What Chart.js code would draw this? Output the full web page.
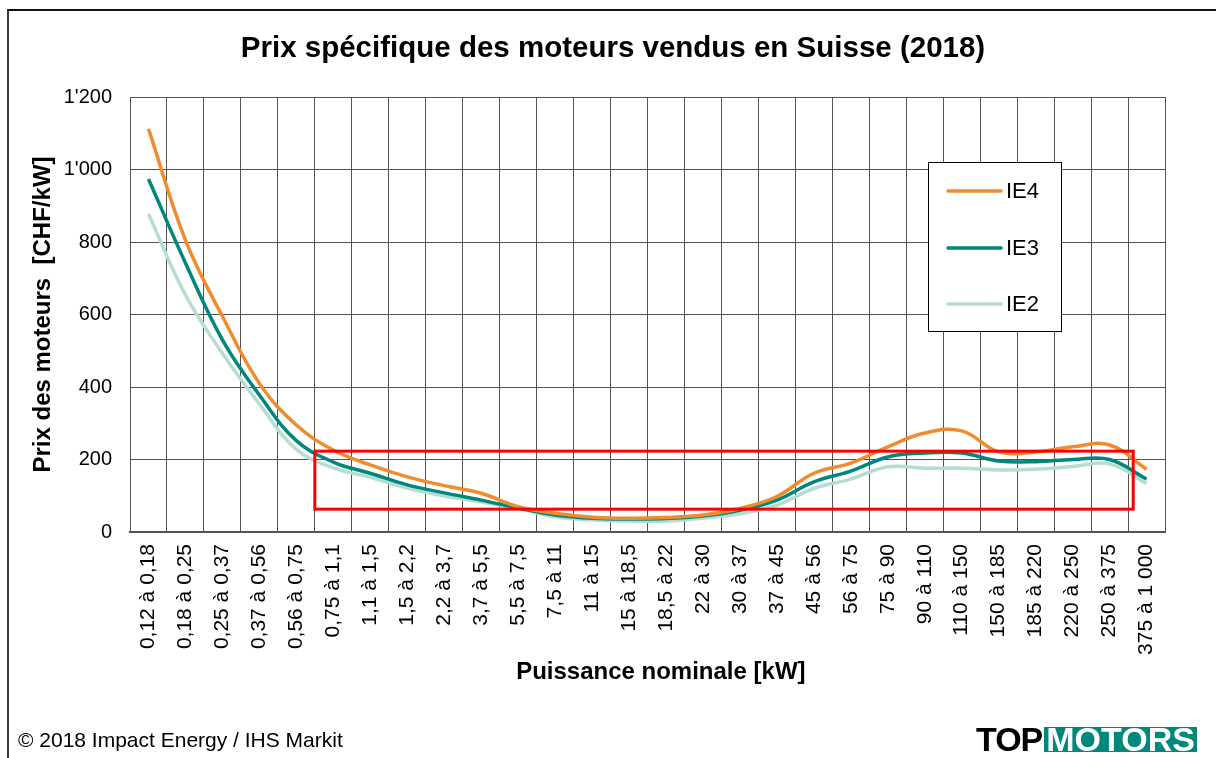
<!DOCTYPE html>
<html lang="fr">
<head>
    <meta charset="UTF-8">
    <title>Prix spécifique des moteurs</title>
    <script src="https://cdn.jsdelivr.net/npm/chart.js"></script>
    <style>
        body { margin: 0; background: #fff; font-family: "Liberation Sans", Arial, sans-serif; }
        #wrap { position: relative; width: 1216px; height: 758px; overflow: hidden; }
        #frame { position: absolute; left: 7px; top: 9px; width: 1300px; height: 800px;
                 border-left: 2px solid #3a3a3a; border-top: 2px solid #111; }
        #chart { position: absolute; left: 0; top: 0; }
        #title { position: absolute; left: 313px; width: 600px; top: 30px; text-align: center; white-space: nowrap;
                 font-size: 29.5px; font-weight: bold; line-height: 34px; color: #000; }
        #title span { display: inline-block; margin: 0 -200px; }
        #source { position: absolute; left: 18px; top: 728px; font-size: 21px; line-height: 24px; color: #000; }
        #logo { position: absolute; left: 976px; top: 727px; font-size: 34px; font-weight: bold; line-height: 25px; white-space: nowrap; }
        #logo .top { color: #000; letter-spacing: -1px; display: inline-block; height: 25px; vertical-align: top; }
        #logo .motors { color: #fff; background: #00887d; display: inline-block; height: 25px; overflow: hidden;
                        padding: 0 2px; margin-left: 2px; vertical-align: top; }
    </style>
</head>
<body>
<div id="wrap">
    <div id="frame"></div>
    <canvas id="chart" width="1216" height="758"></canvas>
    <div id="title"><span>Prix spécifique des moteurs vendus en Suisse (2018)</span></div>
    <div id="source">© 2018 Impact Energy / IHS Markit</div>
    <div id="logo"><span class="top">TOP</span><span class="motors">MOTORS</span></div>
</div>
<script>
    // categories (kW ranges)
    const categories = ['0,12 à 0,18', '0,18 à 0,25', '0,25 à 0,37', '0,37 à 0,56', '0,56 à 0,75',
        '0,75 à 1,1', '1,1 à 1,5', '1,5 à 2,2', '2,2 à 3,7', '3,7 à 5,5', '5,5 à 7,5', '7,5 à 11',
        '11 à 15', '15 à 18,5', '18,5 à 22', '22 à 30', '30 à 37', '37 à 45', '45 à 56', '56 à 75',
        '75 à 90', '90 à 110', '110 à 150', '150 à 185', '185 à 220', '220 à 250', '250 à 375', '375 à 1 000'];

    // CHF/kW
    const ie4 = [1112, 805, 595, 410, 295, 226, 185, 152, 128, 107, 70, 52, 41, 38, 40, 47, 65, 98, 162, 190, 235, 273, 279, 221, 221, 235, 240, 173];
    const ie3 = [974, 742, 530, 378, 252, 193, 162, 130, 108, 88, 66, 47, 38, 36, 37, 44, 60, 88, 138, 168, 207, 218, 218, 196, 194, 200, 200, 146];
    const ie2 = [877, 654, 493, 353, 228, 177, 151, 121, 99, 83, 65, 42, 33, 30, 30, 38, 50, 74, 120, 146, 180, 176, 176, 171, 173, 181, 188, 134];

    const seriesNames = ['IE4', 'IE3', 'IE2'];
    const seriesColors = ['#ef8c2d', '#00877b', '#b6ddd4'];

    const yTicks = [0, 200, 400, 600, 800, 1000, 1200];

    // highlighted zone: category index range and price range
    const zoneX = [4.5, 26.64];
    const zoneY = [63, 223];

    const font = '"Liberation Sans", Arial, sans-serif';
    const gridColor = '#57524d';

    function fmt(v) {
        if (v >= 1000) {
            return Math.floor(v / 1000) + "'" + String(v % 1000).padStart(3, '0');
        }
        return String(v);
    }

    const zonePlugin = {
        id: 'zone',
        afterDatasetsDraw(chart) {
            const ctx = chart.ctx;
            const x = chart.scales.x, y = chart.scales.y;
            const x1 = x.getPixelForValue(zoneX[0]);
            const x2 = x.getPixelForValue(zoneX[1]);
            const y1 = y.getPixelForValue(zoneY[1]);
            const y2 = y.getPixelForValue(zoneY[0]);
            ctx.save();
            ctx.strokeStyle = '#ff0000';
            ctx.lineWidth = 3;
            ctx.strokeRect(x1, y1, x2 - x1, y2 - y1);
            ctx.restore();
        }
    };

    const legendPlugin = {
        id: 'boxLegend',
        afterDraw(chart) {
            const ctx = chart.ctx;
            ctx.save();
            ctx.fillStyle = '#fff';
            ctx.fillRect(928, 162, 134, 170);
            ctx.strokeStyle = '#000';
            ctx.lineWidth = 1;
            ctx.strokeRect(928.5, 162.5, 133, 169);
            ctx.font = '22px ' + font;
            ctx.textBaseline = 'middle';
            const rows = [191, 248, 304];
            seriesNames.forEach((name, i) => {
                ctx.strokeStyle = seriesColors[i];
                ctx.lineWidth = 3.5;
                ctx.lineCap = 'round';
                ctx.beginPath();
                ctx.moveTo(948, rows[i]);
                ctx.lineTo(1001, rows[i]);
                ctx.stroke();
                ctx.fillStyle = '#000';
                ctx.fillText(name, 1006, rows[i] + 1);
            });
            ctx.restore();
        }
    };

    new Chart(document.getElementById('chart'), {
        type: 'line',
        data: {
            labels: categories,
            datasets: [ie4, ie3, ie2].map((d, i) => ({
                label: seriesNames[i],
                data: d,
                borderColor: seriesColors[i],
                borderWidth: 3.5,
                pointRadius: 0,
                tension: 0.4,
                fill: false
            }))
        },
        options: {
            responsive: false,
            animation: false,
            layout: { padding: { top: 97, left: 29, right: 51, bottom: 71 } },
            plugins: {
                legend: { display: false },
                tooltip: { enabled: false },
                title: { display: false }
            },
            scales: {
                x: {
                    offset: true,
                    grid: { offset: true, color: gridColor, lineWidth: 1, drawTicks: false },
                    border: { color: gridColor, width: 2 },
                    ticks: {
                        minRotation: 90, maxRotation: 90, autoSkip: false, padding: 12,
                        color: '#000', font: { family: font, size: 21 }
                    },
                    title: {
                        display: true, text: '    Puissance nominale [kW]', color: '#000',
                        font: { family: font, size: 24, weight: 'bold' }, padding: 0
                    },
                    afterFit(s) { s.height = 155; }
                },
                y: {
                    min: 0, max: 1200,
                    afterBuildTicks(s) { s.ticks = yTicks.map(v => ({ value: v })); },
                    grid: { color: gridColor, lineWidth: 1, drawTicks: false },
                    border: { color: gridColor, width: 1 },
                    ticks: {
                        padding: 18, color: '#000', font: { family: font, size: 20 },
                        callback: v => fmt(v)
                    },
                    title: {
                        display: true, text: 'Prix des moteurs  [CHF/kW]', color: '#000',
                        font: { family: font, size: 24, weight: 'bold' }, padding: 0
                    },
                    afterFit(s) { s.width = 101; }
                }
            }
        },
        plugins: [zonePlugin, legendPlugin]
    });
</script>
</body>
</html>
